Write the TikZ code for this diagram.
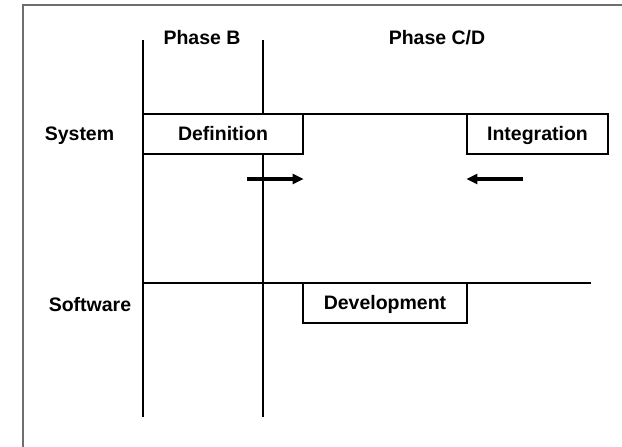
\documentclass[tikz,border=0pt]{standalone}
\usepackage{fontspec}
\setmainfont{Liberation Sans}
\usetikzlibrary{arrows.meta}
\definecolor{framegray}{RGB}{110,110,110}
\tikzset{
  lbl/.style={font=\fontsize{19.5bp}{23bp}\selectfont\bfseries, inner sep=0pt, anchor=base},
  phasebox/.style={draw, line width=1.2bp, fill=white, minimum height=40bp,
    text height=14bp, text depth=0bp, inner sep=0pt,
    font=\fontsize{19.5bp}{23bp}\selectfont\bfseries},
  gridline/.style={line width=1.3bp},
  flowarrow/.style={line width=4bp, -{Triangle[length=11bp,width=10bp]}}
}
\begin{document}
\begin{tikzpicture}[x=1bp,y=-1bp]
  \useasboundingbox (0,0) rectangle (622,447);
  \clip (0,0) rectangle (622,447);
  % outer frame
  \draw[framegray, line width=1.5bp] (23,5) rectangle (700,520);

  % phase boundaries
  \coordinate (b1top) at (143,40);
  \coordinate (b1bot) at (143,417);
  \coordinate (b2top) at (263,40);
  \coordinate (b2bot) at (263,417);
  \draw[gridline] (b1top) -- (b1bot);
  \draw[gridline] (b2top) -- (b2bot);

  % swim lanes
  \coordinate (sysL) at (143,114);
  \coordinate (sysR) at (591,114);
  \coordinate (swL) at (143,283);
  \coordinate (swR) at (591,283);
  \draw[gridline] (sysL) -- (sysR);
  \draw[gridline] (swL) -- (swR);

  % headings
  \node[lbl] (phB) at (202,45) {Phase B};
  \node[lbl] (phCD) at (437,45) {Phase C/D};
  \node[lbl] (sys) at (79.5,141) {System};
  \node[lbl] (sw) at (90,311) {Software};

  % activities
  \node[phasebox, minimum width=160bp] (def) at (223,134) {Definition};
  \node[phasebox, minimum width=141bp] (integ) at (537.5,134) {Integration};
  \node[phasebox, minimum width=164bp] (dev) at (385,303) {Development};

  % hand-over arrows
  \coordinate (aL) at (247,179);
  \coordinate (aR) at (523,179);
  \draw[flowarrow] (aL) -- (def.east |- aL);
  \draw[flowarrow] (aR) -- (integ.west |- aR);
\end{tikzpicture}
\end{document}
